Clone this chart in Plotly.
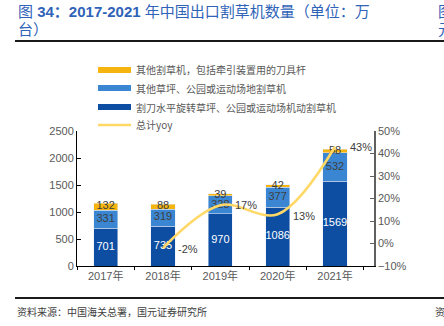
import plotly.graph_objects as go

years = ["2017年", "2018年", "2019年", "2020年", "2021年"]
rotary = [701, 735, 970, 1086, 1569]
other_lawn = [331, 319, 328, 377, 532]
other_mower = [132, 88, 39, 42, 58]
yoy_years = ["2018年", "2019年", "2020年", "2021年"]
yoy = [-2, 17, 13, 43]

names = ["其他割草机，包括牵引装置用的刀具杆", "其他草坪、公园或运动场地割草机",
         "割刀水平旋转草坪、公园或运动场机动割草机", "总计yoy"]

C_DARK = "#0D4EA3"
C_MID = "#3A86D2"
C_GOLD = "#F6B50E"
C_LINE = "#FFD866"
GREY = "#595959"
FONT = "Liberation Sans, Noto Sans CJK SC, sans-serif"

W, H = 444, 326
L, R, T, B = 77, 374, 131, 266

def px(x):
    return (x - L) / (R - L)

def py(y):
    return (B - y) / (B - T)

fig = go.Figure()
fig.add_bar(x=years, y=rotary, marker_color=C_DARK, name=names[2])
fig.add_bar(x=years, y=other_lawn, marker_color=C_MID, name=names[1])
fig.add_bar(x=years, y=other_mower, marker_color=C_GOLD, name=names[0])

# bar value labels
base1 = rotary
base2 = [a + b for a, b in zip(rotary, other_lawn)]
fig.add_scatter(x=years, y=[v / 2 for v in rotary], mode="text",
                text=[str(v) for v in rotary],
                textfont=dict(color="white", size=11, family=FONT), hoverinfo="skip")
fig.add_scatter(x=years, y=[b + v / 2 for b, v in zip(base1, other_lawn)], mode="text",
                text=[str(v) for v in other_lawn],
                textfont=dict(color="#404040", size=11, family=FONT), hoverinfo="skip")
fig.add_scatter(x=years, y=[b + v / 2 for b, v in zip(base2, other_mower)], mode="text",
                text=[str(v) for v in other_mower],
                textfont=dict(color="#404040", size=11, family=FONT), hoverinfo="skip")

fig.add_scatter(x=yoy_years, y=yoy, yaxis="y2", mode="lines",
                line=dict(color=C_LINE, width=2.5, shape="spline", smoothing=1.0),
                name=names[3])

fig.update_layout(
    width=W, height=H, margin=dict(l=L, r=W - R, t=T, b=H - B),
    barmode="stack", bargap=0.58, showlegend=False,
    plot_bgcolor="white", paper_bgcolor="white",
    font=dict(family=FONT, color=GREY, size=11),
    xaxis=dict(showline=True, linecolor="black", linewidth=1, ticks="outside",
               tickson="boundaries", ticklen=3, tickcolor="black",
               tickfont=dict(size=11, color=GREY), showgrid=False),
    yaxis=dict(range=[0, 2500], dtick=500, showline=True, linecolor="black",
               ticks="inside", ticklen=4, tickcolor="black", showgrid=False,
               zeroline=False, tickfont=dict(size=11, color=GREY)),
    yaxis2=dict(range=[-10, 50], dtick=10, overlaying="y", side="right",
                showline=True, linecolor="#606060", linewidth=1.5, ticks="inside",
                ticklen=4, tickcolor="#606060", ticksuffix="%", showgrid=False,
                zeroline=False, tickfont=dict(size=11, color=GREY)),
)

shapes = []
annotations = []

# yoy labels
yshifts = [-1, 0, -2, 0]
for xv, yv, ys in zip(yoy_years, yoy, yshifts):
    annotations.append(dict(text=f"{yv}%", x=xv, y=yv, xref="x", yref="y2",
                            xanchor="left", yanchor="middle", xshift=13, yshift=ys,
                            showarrow=False,
                            font=dict(size=11, color="#404040", family=FONT)))

# legend
legend_rows = [(70, C_GOLD, names[0], "bar"), (88, C_MID, names[1], "bar"),
               (107, C_DARK, names[2], "bar"), (125, C_LINE, names[3], "line")]
for yy, col, nm, kind in legend_rows:
    if kind == "bar":
        shapes.append(dict(type="rect", xref="paper", yref="paper",
                           x0=px(98), x1=px(131), y0=py(yy + 3), y1=py(yy - 3),
                           fillcolor=col, line=dict(width=0)))
    else:
        shapes.append(dict(type="line", xref="paper", yref="paper",
                           x0=px(98), x1=px(131), y0=py(yy), y1=py(yy),
                           line=dict(color=col, width=2.5)))
    annotations.append(dict(text=nm, xref="paper", yref="paper", x=px(134), y=py(yy),
                            xanchor="left", yanchor="middle", showarrow=False,
                            font=dict(size=10, color=GREY, family="Noto Sans CJK SC")))

# title rule and footer rule
shapes.append(dict(type="line", xref="paper", yref="paper", x0=px(15), x1=px(446),
                   y0=py(41), y1=py(41), line=dict(color="#1a1a1a", width=2)))
shapes.append(dict(type="line", xref="paper", yref="paper", x0=px(15), x1=px(446),
                   y0=py(298), y1=py(298), line=dict(color="#1a1a1a", width=2)))

TITLE_C = "#2F63B8"
annotations.append(dict(text="图 <b>34：2017-2021</b> 年中国出口割草机数量（单位：万",
                        xref="paper", yref="paper", x=px(16), y=py(11),
                        xanchor="left", yanchor="middle", showarrow=False,
                        font=dict(size=15, color=TITLE_C, family=FONT)))
annotations.append(dict(text="台）", xref="paper", yref="paper", x=px(16), y=py(30),
                        xanchor="left", yanchor="middle", showarrow=False,
                        font=dict(size=15, color=TITLE_C, family=FONT)))
annotations.append(dict(text="图", xref="paper", yref="paper", x=px(436), y=py(11),
                        xanchor="left", yanchor="middle", showarrow=False,
                        font=dict(size=15, color=TITLE_C, family=FONT)))
annotations.append(dict(text="元", xref="paper", yref="paper", x=px(436), y=py(30),
                        xanchor="left", yanchor="middle", showarrow=False,
                        font=dict(size=15, color=TITLE_C, family=FONT)))
annotations.append(dict(text="资料来源：中国海关总署，国元证券研究所", xref="paper", yref="paper",
                        x=px(15), y=py(311), xanchor="left", yanchor="middle", showarrow=False,
                        font=dict(size=10, color="#404040", family="Noto Sans CJK SC")))
annotations.append(dict(text="资", xref="paper", yref="paper",
                        x=px(433), y=py(311), xanchor="left", yanchor="middle", showarrow=False,
                        font=dict(size=10, color="#404040", family="Noto Sans CJK SC")))

fig.update_layout(shapes=shapes, annotations=annotations)
fig.write_html("out.html")
